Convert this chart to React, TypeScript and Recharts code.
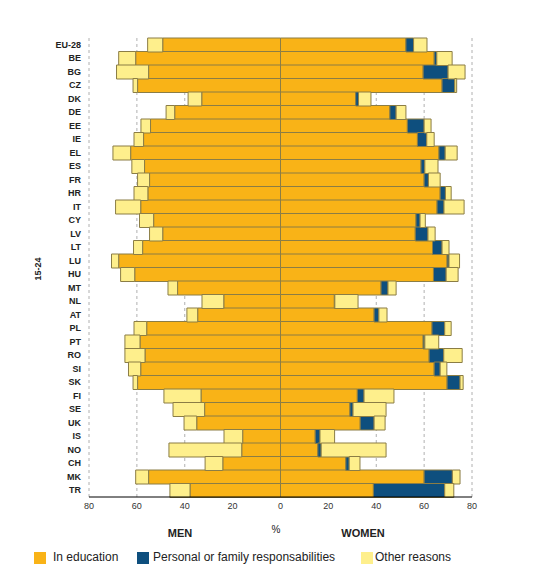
import { BarChart, Bar, XAxis, YAxis, CartesianGrid } from "recharts";

const countries = [
  "EU-28", "BE", "BG", "CZ", "DK", "DE", "EE", "IE", "EL", "ES", "FR", "HR",
  "IT", "CY", "LV", "LT", "LU", "HU", "MT", "NL", "AT", "PL", "PT", "RO",
  "SI", "SK", "FI", "SE", "UK", "IS", "NO", "CH", "MK", "TR",
];

// men (drawn to the left)
const menEducation = [
  49.2, 60.5, 55.1, 59.7, 32.9, 44.2, 54.3, 57.2, 62.6, 56.8, 54.7, 55.4,
  58.4, 53.0, 49.2, 57.6, 67.6, 60.9, 43.0, 23.7, 34.6, 55.9, 58.7, 56.6,
  58.4, 59.7, 33.2, 31.7, 35.0, 15.8, 16.2, 24.1, 55.1, 37.8,
];
const menOther = [
  6.3, 7.1, 13.4, 1.9, 5.7, 3.6, 4.0, 4.0, 7.4, 5.3, 5.0, 5.8,
  10.5, 5.9, 5.5, 3.8, 3.0, 5.9, 4.0, 9.1, 4.5, 5.3, 6.3, 8.4,
  5.1, 1.9, 15.5, 13.2, 5.3, 7.8, 30.4, 7.4, 5.4, 8.4,
];

// women (drawn to the right)
const womenEducation = [
  52.4, 64.2, 59.6, 67.5, 31.4, 45.7, 53.0, 57.2, 66.2, 58.7, 60.0, 66.7,
  65.4, 56.6, 56.3, 63.5, 69.6, 63.9, 42.0, 22.5, 39.1, 63.3, 59.6, 62.1,
  64.2, 69.6, 32.1, 29.0, 33.3, 14.5, 15.6, 27.3, 60.0, 38.8,
];
const womenPersonal = [
  3.2, 1.1, 10.4, 5.3, 1.2, 2.6, 7.0, 3.9, 2.6, 1.6, 1.8, 2.2,
  2.9, 1.7, 5.3, 4.0, 0.8, 5.3, 2.9, 0.2, 2.0, 5.3, 0.7, 6.1,
  2.5, 5.4, 2.8, 1.3, 5.8, 2.0, 1.4, 1.4, 11.8, 29.8,
];
const womenOther = [
  5.6, 6.4, 7.1, 0.8, 5.2, 4.1, 2.9, 3.1, 5.0, 5.5, 4.9, 2.4,
  8.4, 2.2, 3.0, 2.9, 4.4, 5.0, 3.4, 9.7, 3.4, 2.7, 5.8, 7.7,
  2.8, 1.3, 12.5, 13.8, 4.6, 6.1, 27.1, 4.5, 3.2, 3.8,
];

const xTicks = [-80, -60, -40, -20, 0, 20, 40, 60, 80];

const EDU = "#f9b317";
const PERS = "#0e4f7e";
const OTHER = "#feef8c";
const EDGE = "#8b7d45";

const data = countries.map((c, i) => ({
  country: c,
  mEdu: -menEducation[i],
  mOther: -menOther[i],
  wEdu: womenEducation[i],
  wPers: womenPersonal[i],
  wOther: womenOther[i],
}));

const font = "'Liberation Sans', Arial, sans-serif";

export default function App() {
  return (
    <div style={{ position: "relative", width: 526, height: 574, fontFamily: font }}>
      <BarChart
        width={526}
        height={520}
        data={data}
        layout="vertical"
        stackOffset="sign"
        barCategoryGap={0}
        margin={{ top: 30, right: 62, left: 0, bottom: 1 }}
      >
        <CartesianGrid horizontal={false} stroke="#b0b0b0" strokeDasharray="3 3" />
        <XAxis
          type="number"
          domain={[-80, 80]}
          ticks={xTicks}
          tickFormatter={(v: number) => String(Math.abs(v))}
          axisLine={{ stroke: "#000" }}
          tickLine={false}
          tickMargin={0}
          height={30}
          tick={{ fontSize: 9, fill: "#333", fontFamily: font }}
        />
        <YAxis
          type="category"
          dataKey="country"
          width={81}
          axisLine={false}
          tickLine={false}
          interval={0}
          tick={{ fontSize: 9, fill: "#222", fontWeight: 700, fontFamily: font }}
        />
        <Bar dataKey="mEdu" stackId="a" fill={EDU} stroke={EDGE} isAnimationActive={false} />
        <Bar dataKey="mOther" stackId="a" fill={OTHER} stroke={EDGE} isAnimationActive={false} />
        <Bar dataKey="wEdu" stackId="a" fill={EDU} stroke={EDGE} isAnimationActive={false} />
        <Bar dataKey="wPers" stackId="a" fill={PERS} stroke={EDGE} isAnimationActive={false} />
        <Bar dataKey="wOther" stackId="a" fill={OTHER} stroke={EDGE} isAnimationActive={false} />
      </BarChart>

      {/* age group label */}
      <div
        style={{
          position: "absolute",
          left: 30 - 20,
          top: 262 - 6,
          width: 40,
          textAlign: "center",
          fontSize: 9,
          fontWeight: 700,
          color: "#222",
          transform: "rotate(-90deg)",
        }}
      >
        15-24
      </div>

      <div style={{ position: "absolute", left: 150, top: 519, width: 44, textAlign: "center", fontSize: 11, fontWeight: 700, color: "#222" }}>
        MEN
      </div>
      <div style={{ position: "absolute", left: 262, top: 516, width: 12, textAlign: "center", fontSize: 10, color: "#222" }}>
        %
      </div>
      <div style={{ position: "absolute", left: 325, top: 519, width: 60, textAlign: "center", fontSize: 11, fontWeight: 700, color: "#222" }}>
        WOMEN
      </div>

      {/* legend */}
      {[
        { color: EDU, label: "In education", box: 26, text: 45 },
        { color: PERS, label: "Personal or family responsabilities", box: 129, text: 145 },
        { color: OTHER, label: "Other reasons", box: 353, text: 367 },
      ].map((item) => (
        <div key={item.label}>
          <div
            style={{
              position: "absolute",
              left: item.box,
              top: 544,
              width: 12,
              height: 12,
              background: item.color,
            }}
          />
          <div
            style={{
              position: "absolute",
              left: item.text,
              top: 542,
              fontSize: 12,
              color: "#222",
              whiteSpace: "nowrap",
            }}
          >
            {item.label}
          </div>
        </div>
      ))}
    </div>
  );
}
